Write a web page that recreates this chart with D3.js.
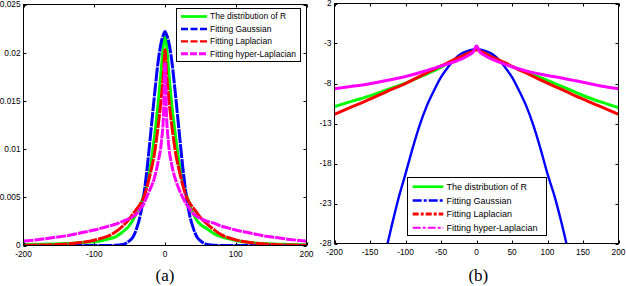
<!DOCTYPE html>
<html>
<head>
<meta charset="utf-8">
<script src="https://cdn.jsdelivr.net/npm/d3@7"></script>
<style>
  body { margin: 0; background: #fff; }
  svg { display: block; }
  text { font-family: "Liberation Sans", Arial, sans-serif; fill: #000; }
  .caption { font-family: "Liberation Serif", "Times New Roman", serif; }
</style>
</head>
<body>
<svg id="chart" width="626" height="286"></svg>
<script>
/************** Data **************/
const legendLabels = ["The distribution of R", "Fitting Gaussian", "Fitting Laplacian", "Fitting hyper-Laplacian"];

// panel (a): densities
const densX = [-200,-180,-160,-140,-120,-100,-90,-80,-70,-60,-50,-45,-40,-35,-30,-25,-20,-15,-10,-5,-2,0,
               2,5,10,15,20,25,30,35,40,45,50,60,70,80,90,100,120,140,160,180,200];
const densR = [0.0001,0.00012,0.00015,0.0002,0.0003,0.0004,0.0005,0.00068,0.0009,0.0014,0.0021,0.0027,0.0034,0.0042,0.0052,0.0066,0.0085,0.0112,0.0145,0.0185,0.0210,0.0219,
               0.0210,0.0183,0.0143,0.0113,0.0086,0.0067,0.0053,0.0043,0.0033,0.0026,0.0022,0.0017,0.0012,0.0009,0.0007,0.00052,0.0003,0.0002,0.00014,0.0001,0.00008];
const densGauss = [0,0,0,0,0,0,0,0,0.00002,0.0001,0.0005,0.0009,0.0018,0.0031,0.0052,0.0082,0.0118,0.0155,0.0189,0.0212,0.0219,0.0222,
               0.0219,0.0212,0.0189,0.0155,0.0118,0.0082,0.0052,0.0031,0.0018,0.0009,0.0005,0.0001,0.00002,0,0,0,0,0,0,0,0];
const densLap = [0.00002,0.00004,0.00008,0.00015,0.0003,0.00055,0.00075,0.001,0.0014,0.002,0.0028,0.0033,0.0038,0.0043,0.005,0.0062,0.0077,0.0095,0.0122,0.0155,0.018,0.0203,
               0.018,0.0155,0.0122,0.0096,0.0078,0.0063,0.0051,0.0044,0.0039,0.0034,0.0029,0.0022,0.0016,0.0011,0.0008,0.00058,0.0003,0.00016,0.00008,0.00004,0.00002];
const densHyper = [0.00045,0.0006,0.0008,0.001,0.0013,0.0016,0.0018,0.002,0.0022,0.0025,0.0028,0.003,0.0033,0.0038,0.0043,0.0052,0.006,0.007,0.0086,0.0108,0.0138,0.019,
               0.0138,0.0106,0.0082,0.0068,0.0058,0.005,0.0043,0.0038,0.0033,0.003,0.0028,0.0025,0.0023,0.002,0.0018,0.0016,0.0013,0.001,0.0008,0.0006,0.00045];

// panel (b): log densities
const logX = [-200,-175,-150,-125,-100,-75,-50,-40,-30,-20,-10,-5,0,5,10,20,30,40,50,75,100,125,150,175,200];
const logR = [-10.9,-10.2,-9.55,-8.75,-7.95,-7.0,-5.95,-5.45,-5.0,-4.55,-4.1,-3.9,-3.68,-3.9,-4.15,-4.55,-5.05,-5.5,-5.9,-6.75,-7.6,-8.55,-9.5,-10.3,-11.0];
const logLap = [-11.84,-10.9,-9.95,-8.95,-8.0,-6.9,-5.8,-5.4,-4.95,-4.55,-4.15,-3.95,-3.77,-3.95,-4.15,-4.6,-5.0,-5.4,-5.85,-6.9,-7.95,-8.95,-9.95,-10.9,-11.84];
const logHyper = [-8.66,-8.35,-8.02,-7.6,-7.12,-6.5,-5.82,-5.55,-5.25,-4.9,-4.4,-4.1,-3.3,-4.1,-4.4,-4.9,-5.25,-5.6,-5.9,-6.55,-7.0,-7.4,-7.85,-8.3,-8.66];
const gaussX = [-130,-120,-110,-100,-90,-80,-70,-60,-50,-40,-30,-20,-10,0,10,20,30,40,50,60,70,80,90,100,110,120,130];
const logGauss = [-29.8,-26.0,-22.4,-19.3,-16.1,-13.2,-10.8,-8.9,-7.2,-5.95,-4.9,-4.2,-3.85,-3.7,-3.85,-4.2,-4.9,-5.95,-7.2,-8.9,-10.8,-13.2,-16.1,-19.3,-22.1,-25.5,-29.3];

// ticks
const ticksAX = [-200, -100, 0, 100, 200];
const ticksAY = [0, 0.005, 0.01, 0.015, 0.02, 0.025];
const labelsAY = ["0", "0.005", "0.01", "0.015", "0.02", "0.025"];
const ticksBX = [-200, -150, -100, -50, 0, 50, 100, 150, 200];
const ticksBY = [2, -3, -8, -13, -18, -23, -28];

/************** Setup **************/
const svg = d3.select("#chart");
const colors = ["#00ff00", "#0000ff", "#ff0000", "#ff00ff"];

const zip = (xs, ys) => xs.map((x, i) => [x, ys[i]]);

const drawPanel = (p) => {
  const x = d3.scaleLinear().domain(p.xDomain).range([p.left, p.right]);
  const y = d3.scaleLinear().domain(p.yDomain).range([p.bottom, p.top]);
  const g = svg.append("g");

  g.append("clipPath").attr("id", p.id + "-clip")
    .append("rect")
      .attr("x", p.left).attr("y", p.top)
      .attr("width", p.right - p.left).attr("height", p.bottom - p.top);

  // curves
  const line = d3.line().x(d => x(d[0])).y(d => y(d[1])).curve(d3.curveMonotoneX);
  const curves = g.append("g").attr("clip-path", `url(#${p.id}-clip)`);
  p.series.forEach((s, i) => {
    curves.append("path")
      .attr("d", line(s.pts))
      .attr("fill", "none")
      .attr("stroke", colors[i])
      .attr("stroke-width", s.w)
      .attr("stroke-dasharray", s.dash || null)
      .attr("stroke-linejoin", "round");
  });

  // inward ticks on all four sides
  const tk = 3;
  const axes = g.append("g").attr("stroke", "#000").attr("stroke-width", 1);
  p.xTicks.forEach(v => {
    const xx = Math.round(x(v)) + 0.5;
    axes.append("line").attr("x1", xx).attr("x2", xx).attr("y1", p.bottom).attr("y2", p.bottom - tk);
    axes.append("line").attr("x1", xx).attr("x2", xx).attr("y1", p.top).attr("y2", p.top + tk);
  });
  p.yTicks.forEach(v => {
    const yy = Math.round(y(v)) + 0.5;
    axes.append("line").attr("x1", p.left).attr("x2", p.left + tk).attr("y1", yy).attr("y2", yy);
    axes.append("line").attr("x1", p.right).attr("x2", p.right - tk).attr("y1", yy).attr("y2", yy);
  });
  axes.append("rect")
    .attr("x", p.left).attr("y", p.top)
    .attr("width", p.right - p.left).attr("height", p.bottom - p.top)
    .attr("fill", "none");

  // tick labels
  g.selectAll("text.xl").data(p.xTicks).join("text")
    .attr("class", "xl")
    .attr("x", d => x(d)).attr("y", p.bottom + 11)
    .attr("text-anchor", "middle").style("font-size", "8.3px")
    .text(d => d);
  g.selectAll("text.yl").data(p.yTicks).join("text")
    .attr("class", "yl")
    .attr("x", p.left - 3).attr("y", d => y(d)).attr("dy", "0.35em")
    .attr("text-anchor", "end").style("font-size", "8.3px")
    .text((d, i) => p.yLabels ? p.yLabels[i] : d);

  // legend
  const L = p.legend;
  const lg = g.append("g");
  lg.append("rect")
    .attr("x", L.x0).attr("y", L.y0).attr("width", L.x1 - L.x0).attr("height", L.y1 - L.y0)
    .attr("fill", "#fff").attr("stroke", "#000").attr("stroke-width", 1);
  legendLabels.forEach((lab, i) => {
    const yy = L.rowY + i * L.step;
    lg.append("line")
      .attr("x1", L.lx0).attr("x2", L.lx1).attr("y1", yy).attr("y2", yy)
      .attr("stroke", colors[i]).attr("stroke-width", L.w[i])
      .attr("stroke-dasharray", L.dash[i]);
    lg.append("text")
      .attr("x", L.tx).attr("y", yy).attr("dy", "0.35em")
      .style("font-size", L.fs + "px")
      .text(lab);
  });

  // caption
  svg.append("text").attr("class", "caption")
    .attr("x", p.capX).attr("y", 280.5).attr("text-anchor", "middle")
    .style("font-size", "17px")
    .text(p.caption);
};

/************** Panel (a) **************/
drawPanel({
  id: "pa", left: 23.5, right: 306.5, top: 4.5, bottom: 245.5,
  xDomain: [-200, 200], yDomain: [0, 0.025],
  xTicks: ticksAX, yTicks: ticksAY, yLabels: labelsAY,
  series: [
    { pts: zip(densX, densR), w: 3 },
    { pts: zip(densX, densGauss), w: 3, dash: "14,1" },
    { pts: zip(densX, densLap), w: 3, dash: "14,1" },
    { pts: zip(densX, densHyper), w: 3, dash: "10,1" }
  ],
  legend: { x0: 176.5, x1: 300.5, y0: 8.5, y1: 61.5, rowY: 16.5, step: 12.4,
            lx0: 181, lx1: 207, tx: 210, fs: 8.5,
            w: [2.7, 2.5, 2.3, 3], dash: [null, "7,2.5", "7,2.5", "7,2"] },
  capX: 165, caption: "(a)"
});

/************** Panel (b) **************/
drawPanel({
  id: "pb", left: 334.5, right: 618.5, top: 3.5, bottom: 243.5,
  xDomain: [-200, 200], yDomain: [-28, 2],
  xTicks: ticksBX, yTicks: ticksBY,
  series: [
    { pts: zip(logX, logR), w: 3 },
    { pts: zip(gaussX, logGauss), w: 2.4 },
    { pts: zip(logX, logLap), w: 3 },
    { pts: zip(logX, logHyper), w: 3 }
  ],
  legend: { x0: 407.5, x1: 546.5, y0: 177.5, y1: 235.5, rowY: 186.7, step: 13.7,
            lx0: 412.7, lx1: 443.3, tx: 446.5, fs: 9,
            w: [2.7, 2.5, 3, 2], dash: [null, "9,2,3,2", "6,2,3,2", "8,2,3,2"] },
  capX: 478.3, caption: "(b)"
});
</script>
</body>
</html>
